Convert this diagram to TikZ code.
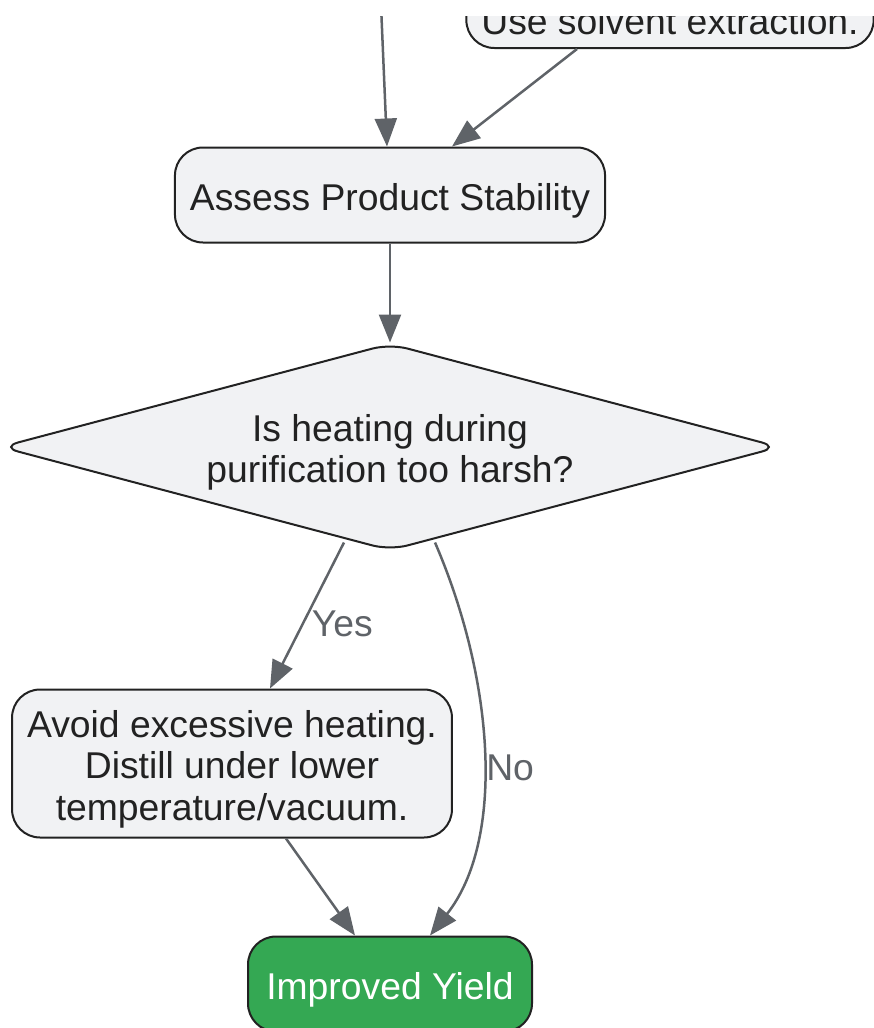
\documentclass[tikz,border=0pt]{standalone}
\usepackage{fontspec}
\setmainfont{Liberation Sans}
\usetikzlibrary{shapes.geometric, positioning, arrows.meta}
\definecolor{boxfill}{HTML}{F1F2F4}
\definecolor{boxline}{HTML}{222222}
\definecolor{edgegray}{HTML}{5F6368}
\definecolor{okgreen}{HTML}{34A853}
\newcommand{\lift}{\rule{0pt}{38pt}} % pushes the text a bit down
\tikzset{
        every node/.style={font=\fontsize{37.3}{41.5}\selectfont},
        box/.style={draw=boxline, line width=2pt, fill=boxfill, text=boxline,
                rounded corners=28pt, align=center, inner xsep=15pt},
        ask/.style={diamond, aspect=3.78, draw=boxline, line width=2pt, fill=boxfill,
                text=boxline, rounded corners=18pt, align=center,
                minimum width=779pt, minimum height=207pt},
        flow/.style={draw=edgegray, line width=2.5pt,
                -{Triangle[length=28pt,width=22pt]}}, % gray arrows
        lbl/.style={text=edgegray, inner sep=2pt}
        }

\begin{document}
\begin{tikzpicture}[x=1pt, y=1pt]
        \useasboundingbox (0,0) rectangle (874,-1028);
        \clip (0,-16) rectangle (874,-1028);
        \node[box, anchor=base, text height=60pt, text depth=14pt, inner ysep=0pt,
              minimum width=406pt] (solvent) at (670,-34) {Use solvent extraction.};
        \coordinate (above) at (381,-5);
        \node[box, minimum width=430pt, minimum height=95pt] (assess) at (390,-195) {\lift Assess Product Stability};
        \node[ask, below=99pt of assess] (q) {\lift Is heating during\\purification too harsh?};
        \node[box, minimum width=439pt, minimum height=148pt, below=137pt of q, xshift=-158pt] (avoid)
              {\lift Avoid excessive heating.\\Distill under lower\\temperature/vacuum.};
        \node[box, fill=okgreen, text=white, minimum width=284pt, minimum height=95pt,
              below=384pt of q] (yield) {\lift Improved Yield};
        \draw[flow] (above) -- ([xshift=-3pt]assess.north);
        \draw[flow] ([xshift=-93pt]solvent.south) -- ([xshift=62pt]assess.north);
        \draw[flow] (assess) -- (q);
        \draw[flow] ([xshift=-46pt,yshift=9pt]q.south) -- node[lbl, pos=0.56, anchor=west, xshift=6pt]{Yes}
              ([xshift=38pt]avoid.north);
        \draw[flow] ([xshift=45pt,yshift=9pt]q.south) .. controls +(60,-139) and +(75,95) ..
              node[lbl, pos=0.53, anchor=west]{No} ([xshift=40pt]yield.north);
        \draw[flow] ([xshift=54pt]avoid.south) -- ([xshift=-35pt]yield.north);
      \end{tikzpicture}
\end{document}
